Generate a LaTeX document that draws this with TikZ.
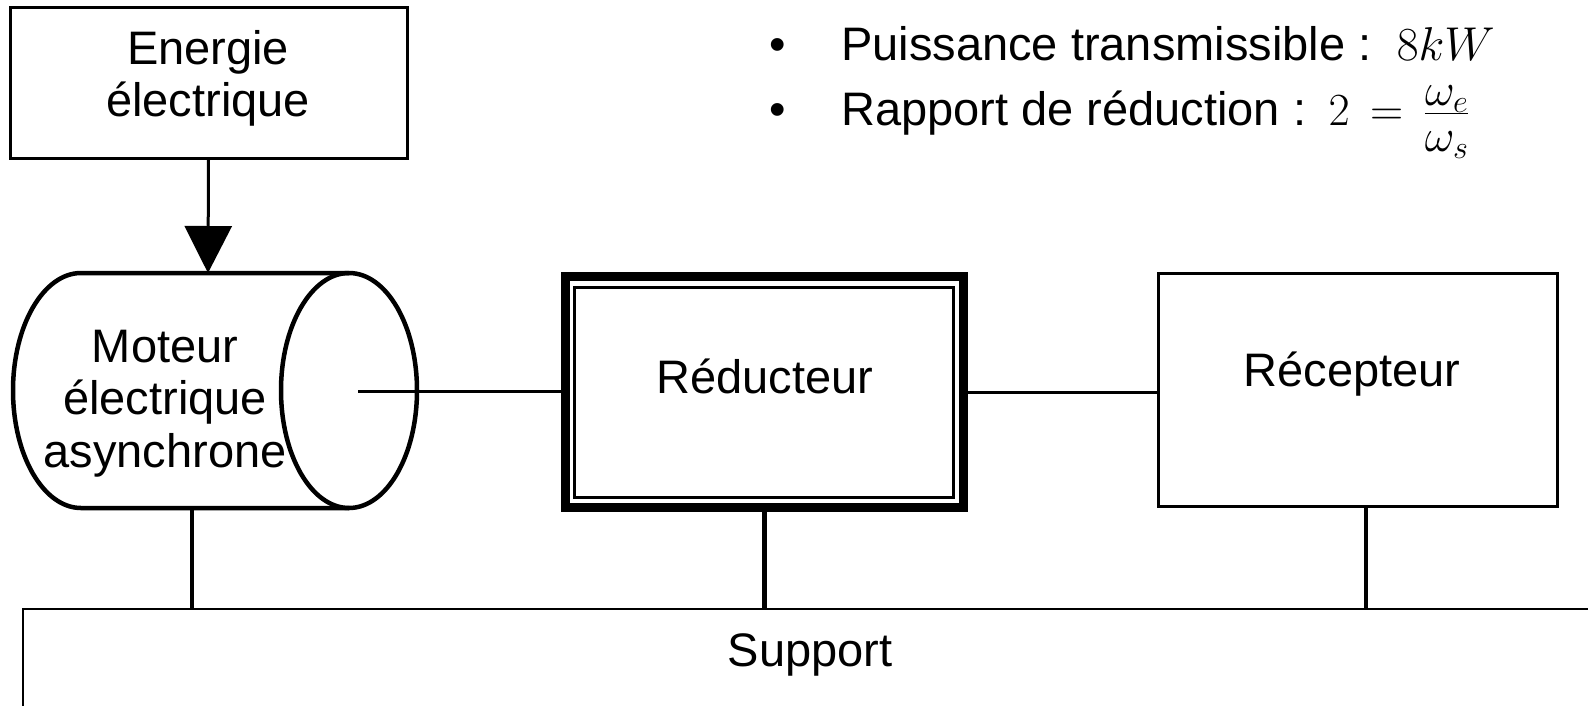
\RequirePackage{fix-cm}
\documentclass[tikz,border=0pt]{standalone}
\usepackage[no-math]{fontspec}
\setmainfont{Liberation Sans}
\usepackage{amsmath}
\usetikzlibrary{arrows.meta}
\newcommand{\mathsz}{\fontsize{46}{55}\selectfont}
\newcommand{\mathszb}{\fontsize{47.5}{56}\selectfont}
\begin{document}
\begin{tikzpicture}[x=1pt,y=-1pt,
  lbl/.style={anchor=base,inner sep=0pt,font=\fontsize{47}{56}\selectfont},
  thinbox/.style={draw,line width=3pt,inner sep=0pt},
  wire/.style={line width=3pt},
  post/.style={line width=4.5pt},
  cyl/.style={line width=4.5pt}]
\useasboundingbox (0,0) rectangle (1588,705);
\fill[white] (0,0) rectangle (1588,705);
\clip (0,0) rectangle (1588,705);

% Energie electrique
\node[thinbox,minimum width=397pt,minimum height=151pt] (energie) at (208.5,82.5) {};
\node[lbl] (energieA) at (208,64) {Energie};
\node[lbl] (energieB) at (208,116) {électrique};

% Moteur (cylindre)
\draw[cyl] (349,273) -- (81,273) arc[start angle=270,end angle=90,x radius=68,y radius=117.5] -- (349,508);
\draw[cyl] (349,390.5) ellipse[x radius=68,y radius=117.5];
\coordinate (motortop) at (208,273);
\coordinate (motorshaft) at (358,391);
\coordinate (motorbottom) at (192,508);
\node[lbl] (motA) at (165,362) {Moteur};
\node[lbl] (motB) at (165,414) {électrique};
\node[lbl] (motC) at (165,467) {asynchrone};

% Reducteur
\node[draw,line width=9pt,inner sep=0pt,minimum width=397.5pt,minimum height=231pt] (red) at (764.25,392) {};
\node[draw,line width=3pt,inner sep=0pt,minimum width=378.5pt,minimum height=210pt] (redin) at (763.75,392) {};
\node[lbl] (redlbl) at (765,393) {Réducteur};

% Recepteur
\node[thinbox,minimum width=399pt,minimum height=233pt] (rec) at (1357.5,389.5) {};
\node[lbl] (reclbl) at (1352,386) {Récepteur};

% Support
\node[draw,line width=2.5pt,inner sep=0pt,minimum width=1577pt,minimum height=111pt] (sup) at (811.5,664.5) {};
\node[lbl] (suplbl) at (810,666) {Support};

% Connecteurs
\draw[wire,-{Triangle[length=47pt,width=47pt]}] (energie.south) -- (motortop);
\draw[wire] (motorshaft) -- (motorshaft -| red.west);
\draw[wire] (red.east) -- (red.east -| rec.west);
\draw[post] (motorbottom) -- (motorbottom |- sup.north);
\draw[post] (red.south) -- (red.south |- sup.north);
\draw[post] ([xshift=8.5pt]rec.south) -- ([xshift=8.5pt]rec.south |- sup.north);

% Caracteristiques
\node[lbl] (b1) at (778,60) {•};
\node[lbl,anchor=base west] (t1) at (841,60) {Puissance transmissible : \kern8pt{\mathszb$8kW$}};
\node[lbl] (b2) at (778,125) {•};
\node[lbl,anchor=base west] (t2) at (841,125) {Rapport de réduction : \kern5pt{\mathsz$2\mskip3mu=\mskip3mu\frac{\textstyle\omega_e}{\textstyle\omega_s\vrule width0pt height37pt depth0pt}$}};
\end{tikzpicture}
\end{document}
